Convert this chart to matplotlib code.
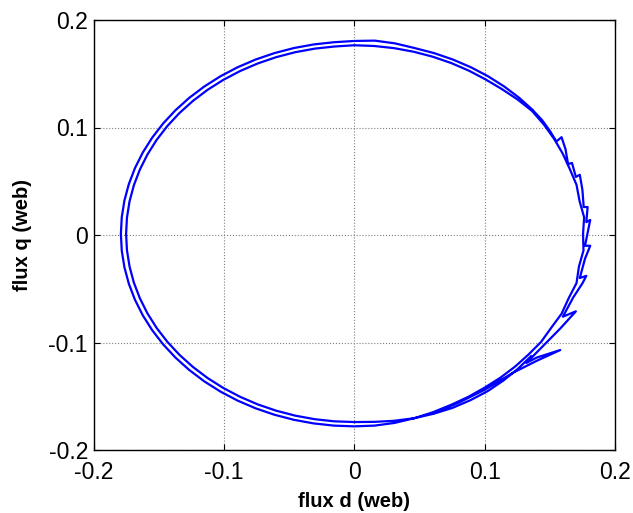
import numpy as np
import matplotlib
matplotlib.use("Agg")
import matplotlib.pyplot as plt

plt.rcParams['font.family'] = ['Liberation Sans', 'DejaVu Sans']
plt.rcParams['axes.unicode_minus'] = False

# Start-up transient of the stator flux (d, q) in web, right half-plane
transient_d = [0.060, 0.080, 0.100, 0.122, 0.140, 0.158, 0.140, 0.132, 0.145,
               0.158, 0.170, 0.160, 0.168, 0.175, 0.178, 0.173, 0.177, 0.181,
               0.177, 0.179, 0.181, 0.178, 0.179, 0.176, 0.175, 0.173, 0.170,
               0.167, 0.164, 0.162, 0.159, 0.155, 0.150, 0.144, 0.137]
transient_q = [-0.166, -0.156, -0.144, -0.128, -0.117, -0.107, -0.114, -0.119, -0.103,
               -0.087, -0.071, -0.076, -0.058, -0.045, -0.038, -0.040, -0.022, -0.010,
               -0.010, 0.002, 0.014, 0.012, 0.026, 0.026, 0.042, 0.056, 0.054,
               0.067, 0.066, 0.080, 0.091, 0.087, 0.097, 0.107, 0.116]

# Following revolutions: flux magnitude (web) every 5 deg of flux angle,
# from 40 deg through almost two turns (40 .. 680 deg)
orbit_start_deg = 40
orbit_step_deg = 5
orbit_radius = [
    # first turn
    0.179, 0.179, 0.179, 0.179, 0.179, 0.179, 0.179, 0.179, 0.180, 0.1805,    # 40-85
    0.1795, 0.179, 0.179, 0.179, 0.179, 0.179, 0.179, 0.179, 0.179, 0.179,    # 90-135
    0.179, 0.179, 0.179, 0.179, 0.179, 0.179, 0.179, 0.179, 0.179, 0.179,     # 140-185
    0.179, 0.179, 0.179, 0.179, 0.179, 0.179, 0.179, 0.179, 0.179, 0.179,     # 190-235
    0.179, 0.179, 0.179, 0.179, 0.179, 0.179, 0.179, 0.179, 0.1785, 0.1775,   # 240-285
    0.1765, 0.1755, 0.175, 0.1745, 0.1745, 0.1745, 0.1745, 0.175, 0.1745, 0.1755,  # 290-335
    0.175, 0.1765, 0.175, 0.1765, 0.1755, 0.177, 0.1755, 0.1765, 0.176, 0.1765,    # 340-385
    0.177, 0.1775,                                                              # 390-395
    # second turn
    0.178, 0.177, 0.176, 0.1755, 0.1755, 0.1755, 0.1755, 0.1755, 0.1755, 0.1755,  # 400-445
    0.1755, 0.175, 0.175, 0.175, 0.175, 0.175, 0.175, 0.175, 0.175, 0.175,        # 450-495
    0.175, 0.175, 0.175, 0.175, 0.175, 0.175, 0.175, 0.175, 0.175, 0.175,         # 500-545
    0.175, 0.175, 0.175, 0.175, 0.175, 0.175, 0.175, 0.175, 0.175, 0.175,         # 550-595
    0.175, 0.175, 0.175, 0.175, 0.175, 0.175, 0.175, 0.1755, 0.1765, 0.1775,      # 600-645
    0.178, 0.1785, 0.1785, 0.1785, 0.178, 0.1775, 0.177,                          # 650-680
]
orbit_q_offset = 0.001

orbit_angle = np.deg2rad(orbit_start_deg + orbit_step_deg * np.arange(len(orbit_radius)))
orbit_d = np.asarray(orbit_radius) * np.cos(orbit_angle)
orbit_q = np.asarray(orbit_radius) * np.sin(orbit_angle) + orbit_q_offset

flux_d = np.concatenate([transient_d, orbit_d])
flux_q = np.concatenate([transient_q, orbit_q])

ticks = [-0.2, -0.1, 0, 0.1, 0.2]
tick_labels = ['-0.2', '-0.1', '0', '0.1', '0.2']

fig = plt.figure(figsize=(6.33, 5.13), dpi=100)
ax = fig.add_axes([93.5 / 633, 63 / 513, (615 - 93.5) / 633, 430 / 513])

ax.plot(flux_d, flux_q, color='#0000ff', linewidth=1.6)

ax.set_xlim(-0.2, 0.2)
ax.set_ylim(-0.2, 0.2)
ax.set_xticks(ticks)
ax.set_yticks(ticks)
ax.set_xticklabels(tick_labels)
ax.set_yticklabels(tick_labels)
ax.tick_params(direction='in', length=4, width=0.8, top=True, right=True,
               labelsize=16.5, colors='black')
ax.tick_params(axis='x', pad=8)
ax.tick_params(axis='y', pad=4)
ax.grid(True, linestyle=':', color='#7f7f7f', linewidth=0.8)
for s in ax.spines.values():
    s.set_linewidth(1.0)
    s.set_color('black')

ax.set_xlabel('flux d (web)', fontsize=14.5, fontweight='bold', labelpad=6)
ax.set_ylabel('flux q (web)', fontsize=14.5, fontweight='bold', labelpad=12)

fig.savefig('out.png', dpi=100)
